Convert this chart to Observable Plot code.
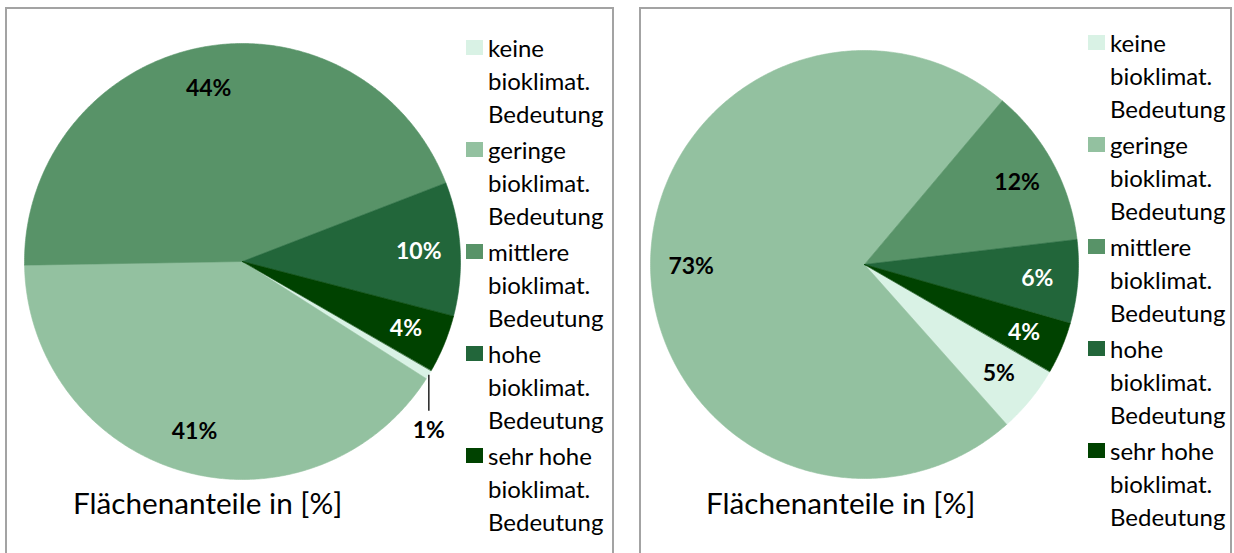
<!DOCTYPE html>
<html><head><meta charset="utf-8">
<script src="https://cdn.jsdelivr.net/npm/d3@7"></script>
<script src="https://cdn.jsdelivr.net/npm/@observablehq/plot@0.6"></script>
<style>
html,body{margin:0;padding:0;background:#fff;}
body{width:1234px;height:553px;overflow:hidden;position:relative;font-family:Lato,"Open Sans",sans-serif;color:#000;}
.panel{position:absolute;border:2px solid #a3a3a3;box-sizing:border-box;}
.legend{position:absolute;font-size:24px;line-height:33px;white-space:nowrap;}
.item{position:relative;padding-left:22px;margin-bottom:3px;}
.sw{position:absolute;left:0;top:9px;width:17px;height:15px;}
.title{position:absolute;font-size:29.7px;line-height:34px;white-space:nowrap;}
.pie{position:absolute;}
</style></head><body>
<script>
// ---- data ----
const categories = ["keine", "geringe", "mittlere", "hohe", "sehr hohe"];
const legendSuffix = ["bioklimat.", "Bedeutung"];
const valuesLeft = [0.7, 40.7, 44.4, 9.9, 4.3];
const valuesRight = [5.1, 72.7, 12.0, 6.3, 3.9];
const sliceColors = ["#d9f2e5", "#93c1a0", "#589368", "#22663a", "#004200"];
const lightLabel = [false, false, false, true, true];
const chartTitle = "Flächenanteile in [%]";

// ---- layout ----
const panels = [
  {values: valuesLeft, box: [5, 7, 609, 600], cx: 242, cy: 261, R: 218, legend: [466, 31], title: [73, 486]},
  {values: valuesRight, box: [639, 7, 593, 600], cx: 863.5, cy: 264, R: 214, legend: [1088, 26], title: [706, 486]}
];

function piePlot(values, R) {
  const pad = 70;
  const arcs = d3.pie().sort(null)
    .startAngle(120 * Math.PI / 180)
    .endAngle(480 * Math.PI / 180)(values);
  const poly = [];
  const labels = [];
  const leaders = [];
  arcs.forEach((a, i) => {
    const n = Math.max(2, Math.ceil((a.endAngle - a.startAngle) / (Math.PI / 360)));
    poly.push({cat: categories[i], x: 0, y: 0});
    for (let k = 0; k <= n; k++) {
      const t = a.startAngle + (a.endAngle - a.startAngle) * k / n;
      poly.push({cat: categories[i], x: Math.sin(t), y: -Math.cos(t)});
    }
    const mid = (a.startAngle + a.endAngle) / 2;
    const text = d3.format(".0%")(Math.round(a.data) / 100);
    if (a.data < 2) {
      const x0 = Math.sin(mid), y0 = -Math.cos(mid);
      const y1 = y0 + 36 / R;
      leaders.push({x1: x0, y1: y0, x2: x0, y2: y1});
      labels.push({x: x0, y: y1 + 20 / R, text, light: false});
    } else {
      const r = 0.81;
      labels.push({x: Math.sin(mid) * r, y: -Math.cos(mid) * r, text, light: lightLabel[i]});
    }
  });
  return Plot.plot({
    width: 2 * R + 2 * pad,
    height: 2 * R + 2 * pad,
    margin: 0,
    style: {background: "transparent", overflow: "visible"},
    x: {domain: [-1, 1], range: [pad, pad + 2 * R], axis: null},
    y: {domain: [-1, 1], range: [pad, pad + 2 * R], axis: null},
    color: {type: "ordinal", domain: categories, range: sliceColors},
    marks: [
      Plot.line(poly, {x: "x", y: "y", z: "cat", fill: "cat", stroke: "cat", strokeWidth: 0.6, curve: "linear-closed"}),
      Plot.link(leaders, {x1: "x1", y1: "y1", x2: "x2", y2: "y2", stroke: "black", strokeWidth: 1.3}),
      Plot.text(labels.filter(d => !d.light), {x: "x", y: "y", text: "text", fill: "black", fontWeight: "bold", fontSize: 23, fontFamily: "Lato"}),
      Plot.text(labels.filter(d => d.light), {x: "x", y: "y", text: "text", fill: "white", fontWeight: "bold", fontSize: 23, fontFamily: "Lato"})
    ]
  });
}

panels.forEach(p => {
  const box = document.createElement("div");
  box.className = "panel";
  Object.assign(box.style, {left: p.box[0] + "px", top: p.box[1] + "px", width: p.box[2] + "px", height: p.box[3] + "px"});
  document.body.appendChild(box);

  const svg = piePlot(p.values, p.R);
  const pad = 70;
  svg.classList.add("pie");
  svg.style.left = (p.cx - p.R - pad) + "px";
  svg.style.top = (p.cy - p.R - pad) + "px";
  document.body.appendChild(svg);

  const leg = document.createElement("div");
  leg.className = "legend";
  leg.style.left = p.legend[0] + "px";
  leg.style.top = p.legend[1] + "px";
  categories.forEach((c, i) => {
    const item = document.createElement("div");
    item.className = "item";
    const sw = document.createElement("span");
    sw.className = "sw";
    sw.style.background = sliceColors[i];
    item.appendChild(sw);
    item.appendChild(document.createTextNode(c));
    legendSuffix.forEach(s => { item.appendChild(document.createElement("br")); item.appendChild(document.createTextNode(s)); });
    leg.appendChild(item);
  });
  document.body.appendChild(leg);

  const t = document.createElement("div");
  t.className = "title";
  t.style.left = p.title[0] + "px";
  t.style.top = p.title[1] + "px";
  t.textContent = chartTitle;
  document.body.appendChild(t);
});
</script>
</body></html>
